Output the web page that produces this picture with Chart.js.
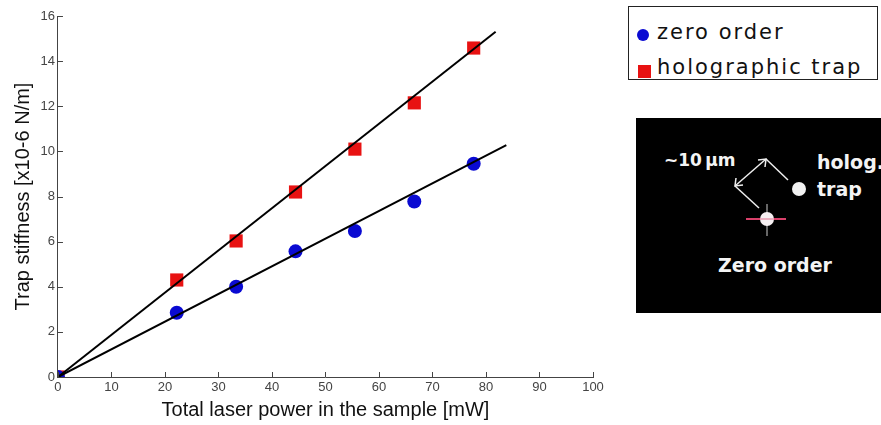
<!DOCTYPE html>
<html lang="en">
  <head>
    <meta charset="UTF-8" />
    <title>Trap stiffness</title>
    <script src="https://cdn.jsdelivr.net/npm/chart.js"></script>
    <style>
      body { margin: 0; background: #fff; }
      .wrap { position: relative; width: 881px; height: 425px; overflow: hidden; }
      .chart-box { position: absolute; left: 0; top: 0; width: 881px; height: 425px; }
      .legend {
        position: absolute; left: 628px; top: 6px; width: 250px; height: 74px;
        border: 1px solid #222; box-sizing: border-box; background: #fff;
        font-family: "DejaVu Sans", sans-serif; font-size: 21px; color: #111; letter-spacing: 2px;
      }
      .legend span { position: absolute; left: 28px; line-height: 21px; white-space: nowrap; }
      .legend .sym { position: absolute; }
      .inset {
        position: absolute; left: 636px; top: 118px; width: 250px; height: 195px;
        background: #000; color: #f4f4f4; font-family: "DejaVu Sans", sans-serif; font-weight: bold;
      }
      .inset span { position: absolute; white-space: nowrap; }
      .inset svg { position: absolute; left: 0; top: 0; }
    </style>
  </head>
  <body>
    <div class="wrap">
      <div class="chart-box"><canvas id="myChart"></canvas></div>
      <div class="legend">
        <div class="sym" style="left: 8px; top: 22px; width: 12px; height: 12px; background: #0a0ad2; border-radius: 50%"></div>
        <span style="top: 15px">zero order</span>
        <div class="sym" style="left: 9px; top: 58px; width: 13px; height: 13px; background: #e81212"></div>
        <span style="top: 50px">holographic trap</span>
      </div>
      <div class="inset">
        <svg width="250" height="195">
          <g stroke="#eee" stroke-width="1.5" fill="none">
            <line x1="99" y1="68" x2="130" y2="41" />
            <polyline points="122,42 130,41 129,49" />
            <polyline points="100,60 99,68 107,67" />
            <line x1="130" y1="41" x2="152" y2="62" />
            <line x1="99" y1="68" x2="123" y2="90" />
          </g>
          <circle cx="163" cy="71" r="7" fill="#f2f2f2" />
          <line x1="110" y1="101" x2="150" y2="101" stroke="#d8406a" stroke-width="2" />
          <line x1="131" y1="86" x2="131" y2="118" stroke="#888" stroke-width="1.5" />
          <circle cx="131" cy="101" r="7" fill="#f6f0f2" />
          <line x1="124" y1="101" x2="138" y2="101" stroke="#e07090" stroke-width="1" />
        </svg>
        <span style="left: 28px; top: 32px; font-size: 17px">~10&thinsp;μm</span>
        <span style="left: 181px; top: 33px; font-size: 19px">holog.</span>
        <span style="left: 181px; top: 60px; font-size: 19px">trap</span>
        <span style="left: 82px; top: 136px; font-size: 19px">Zero order</span>
      </div>
    </div>
    <script>
      // laser power [mW]
      const power = [0, 22.2, 33.3, 44.4, 55.5, 66.6, 77.7];
      // trap stiffness [x10-6 N/m]
      const zeroOrder = [0, 2.85, 4.0, 5.57, 6.47, 7.78, 9.45];
      const holoTrap = [0, 4.3, 6.03, 8.2, 10.1, 12.15, 14.58];
      // linear fits (end points)
      const zeroFitX = [0, 83.8];
      const zeroFitY = [0, 10.28];
      const holoFitX = [0, 81.8];
      const holoFitY = [0, 15.3];

      const toXY = (xs, ys) => xs.map((x, i) => ({ x: x, y: ys[i] }));

      // matlab style inward ticks
      const inwardTicks = {
        id: "inwardTicks",
        afterDraw(chart) {
          const c = chart.ctx;
          const a = chart.chartArea;
          const xs = chart.scales.x;
          const ys = chart.scales.y;
          c.save();
          c.strokeStyle = "#444";
          c.lineWidth = 1;
          c.beginPath();
          xs.ticks.forEach((t) => {
            const px = Math.round(xs.getPixelForValue(t.value)) + 0.5;
            c.moveTo(px, a.bottom);
            c.lineTo(px, a.bottom - 5);
          });
          ys.ticks.forEach((t) => {
            const py = Math.round(ys.getPixelForValue(t.value)) + 0.5;
            c.moveTo(a.left, py);
            c.lineTo(a.left + 5, py);
          });
          c.stroke();
          c.restore();
        },
      };

      const tickFont = { family: "Liberation Sans", size: 13 };
      const titleFont = { family: "Liberation Sans", size: 20 };

      const ctx = document.getElementById("myChart");
      new Chart(ctx, {
        type: "scatter",
        data: {
          datasets: [
            {
              label: "fit holographic",
              data: toXY(holoFitX, holoFitY),
              showLine: true,
              borderColor: "#000",
              borderWidth: 2,
              pointRadius: 0,
            },
            {
              label: "fit zero",
              data: toXY(zeroFitX, zeroFitY),
              showLine: true,
              borderColor: "#000",
              borderWidth: 2,
              pointRadius: 0,
            },
            {
              label: "zero order",
              data: toXY(power, zeroOrder),
              pointStyle: "circle",
              pointRadius: 7,
              backgroundColor: "#0a0ad2",
              borderColor: "#0a0ad2",
              borderWidth: 0,
            },
            {
              label: "holographic trap",
              data: toXY(power, holoTrap),
              pointStyle: "rect",
              pointRadius: 9.3,
              backgroundColor: "#e81212",
              borderColor: "#e81212",
              borderWidth: 0,
            },
          ],
        },
        options: {
          responsive: true,
          maintainAspectRatio: false,
          animation: false,
          layout: { padding: { left: 11, right: 288, top: 16, bottom: 2.4 } },
          plugins: { legend: { display: false }, tooltip: { enabled: false } },
          scales: {
            x: {
              min: 0,
              max: 100,
              ticks: { stepSize: 10, color: "#444", font: tickFont, padding: 3 },
              grid: { display: false, drawTicks: false },
              border: { color: "#444", width: 1 },
              title: {
                display: true,
                text: "Total laser power in the sample [mW]",
                color: "#111",
                font: titleFont,
                padding: { top: 0, bottom: 0 },
              },
            },
            y: {
              min: 0,
              max: 16,
              ticks: { stepSize: 2, color: "#444", font: tickFont, padding: 3 },
              grid: { display: false, drawTicks: false },
              border: { color: "#444", width: 1 },
              title: {
                display: true,
                text: "Trap stiffness [x10-6 N/m]",
                color: "#111",
                font: titleFont,
                padding: { top: 0, bottom: 2.5 },
              },
            },
          },
        },
        plugins: [inwardTicks],
      });
    </script>
  </body>
</html>
